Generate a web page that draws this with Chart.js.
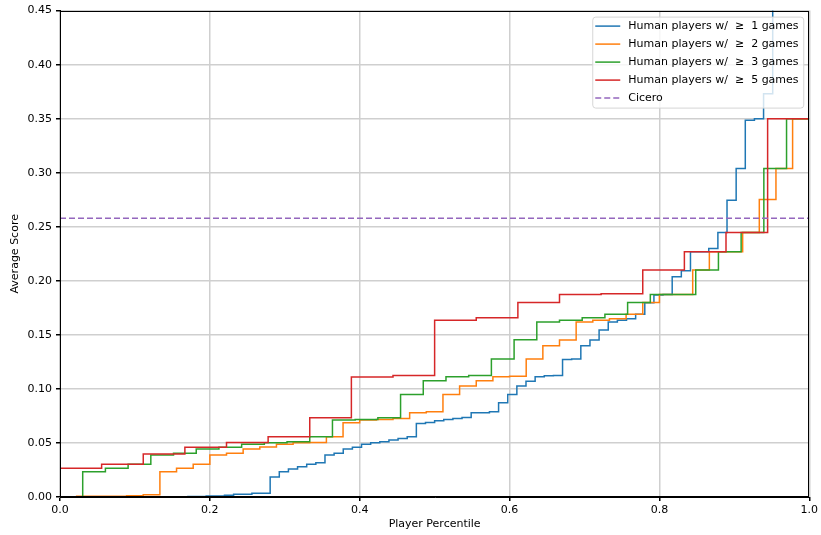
<!DOCTYPE html>
<html>
<head>
<meta charset="utf-8">
<title>Average Score by Player Percentile</title>
<script src="https://cdn.jsdelivr.net/npm/chart.js@4.4.1/dist/chart.umd.min.js"></script>
<style>
    body { margin: 0; background: #fff; }
    #wrap { width: 821px; height: 535px; }
</style>
</head>
<body>
<div id="wrap"><canvas id="scoreChart" width="821" height="535"></canvas></div>
<script>
// Average score of each player, sorted, one value per player
const players1 = [
    0, 0, 0, 0, 0, 0, 0, 0, 0, 0, 0, 0, 0, 0,
    0.0005, 0.0005, 0.001, 0.001, 0.0017, 0.0025, 0.0025, 0.0035, 0.0035,
    0.0185, 0.0234, 0.0259, 0.028, 0.0302, 0.0317, 0.0388, 0.0404, 0.0444, 0.046,
    0.0487, 0.0502, 0.0511, 0.0527, 0.0542, 0.0558, 0.0681, 0.069, 0.0706, 0.0718,
    0.0727, 0.0736, 0.078, 0.078, 0.0789, 0.0872, 0.0949, 0.1026, 0.1072, 0.1113,
    0.1122, 0.1125, 0.1273, 0.1276, 0.140, 0.1452, 0.1544, 0.162, 0.1636, 0.165,
    0.169, 0.1796, 0.1868, 0.1874, 0.2037, 0.2093, 0.2268, 0.2268, 0.230, 0.2447,
    0.2746, 0.304, 0.3486, 0.350, 0.373, 0.48, 0.52, 0.60, 0.75
];
const players2 = [
    0, 0.0008, 0.0008, 0.0008, 0.0012, 0.0021, 0.0234, 0.0265, 0.0302, 0.0388,
    0.0404, 0.0444, 0.0462, 0.0487, 0.0502, 0.0505, 0.0558, 0.0687, 0.0712, 0.0718,
    0.0727, 0.078, 0.0789, 0.0949, 0.1026, 0.1076, 0.1113, 0.1118, 0.1276, 0.140,
    0.1452, 0.162, 0.1636, 0.165, 0.169, 0.180, 0.1874, 0.1874, 0.2099, 0.2268,
    0.2268, 0.2447, 0.2752, 0.304, 0.350
];
const players3 = [
    0, 0.0234, 0.0265, 0.0302, 0.0388, 0.0404, 0.0444, 0.046, 0.0487, 0.0502,
    0.051, 0.0558, 0.0712, 0.0718, 0.0733, 0.0949, 0.1076, 0.1113, 0.1125, 0.1276,
    0.1455, 0.162, 0.1636, 0.1658, 0.169, 0.180, 0.1874, 0.1874, 0.210, 0.2268,
    0.2447, 0.304, 0.350
];
const players5 = [
    0.0265, 0.0302, 0.0397, 0.046, 0.0505, 0.0558, 0.0733, 0.111, 0.1123,
    0.1636, 0.1658, 0.180, 0.1874, 0.188, 0.210, 0.2268, 0.2447, 0.350
];
const ciceroScore = 0.258;

const seriesLabels = [
    'Human players w/  \u2265  1 games',
    'Human players w/  \u2265  2 games',
    'Human players w/  \u2265  3 games',
    'Human players w/  \u2265  5 games',
    'Cicero'
];
const seriesColors = ['#1f77b4', '#ff7f0e', '#2ca02c', '#d62728', '#9467bd'];

const xTicks = [0, 0.2, 0.4, 0.6, 0.8, 1.0];
const yTicks = [0, 0.05, 0.10, 0.15, 0.20, 0.25, 0.30, 0.35, 0.40, 0.45];

const FONT = 'DejaVu Sans';

// percentile of player k out of n, plus a closing point at 1.0
function toSteps(values) {
    const n = values.length;
    const pts = values.map((v, k) => ({ x: k / n, y: v }));
    pts.push({ x: 1, y: values[n - 1] });
    return pts;
}

function stepSet(i, values) {
    return {
        label: seriesLabels[i],
        data: toSteps(values),
        borderColor: seriesColors[i],
        borderWidth: 1.5,
        stepped: 'before', // hold each value until the next player
        pointRadius: 0,
        fill: false,
        order: 5 - i
    };
}

// box round the plot + legend in the upper right corner
const frameAndLegend = {
    id: 'frameAndLegend',
    afterDatasetsDraw(chart) {
        const { ctx, chartArea: a } = chart;
        ctx.save();
        ctx.strokeStyle = '#000';
        ctx.lineWidth = 1;
        ctx.strokeRect(Math.round(a.left) + 0.5, Math.round(a.top) + 0.5,
            Math.round(a.right - a.left) - 1, Math.round(a.bottom - a.top) - 1);

        const boxW = 211, boxH = 91;
        const bx = a.right - 6 - boxW, by = a.top + 6;
        ctx.fillStyle = 'rgba(255,255,255,0.8)';
        ctx.strokeStyle = '#d6d6d6';
        ctx.beginPath();
        ctx.roundRect(bx + 0.5, by + 0.5, boxW, boxH, 3);
        ctx.fill();
        ctx.stroke();

        ctx.font = `11px "${FONT}"`;
        ctx.textBaseline = 'middle';
        ctx.fillStyle = '#000';
        chart.data.datasets.forEach((ds, i) => {
            const y = by + 9.5 + i * 18;
            ctx.beginPath();
            ctx.strokeStyle = ds.borderColor;
            ctx.lineWidth = 1.5;
            ctx.setLineDash(ds.borderDash || []);
            ctx.moveTo(bx + 3, y);
            ctx.lineTo(bx + 28, y);
            ctx.stroke();
            ctx.setLineDash([]);
            ctx.fillText(ds.label, bx + 36, y);
        });
        ctx.restore();
    }
};

const datasets = [
    stepSet(0, players1),
    stepSet(1, players2),
    stepSet(2, players3),
    stepSet(3, players5),
    {
        label: seriesLabels[4],
        data: [{ x: 0, y: ciceroScore }, { x: 1, y: ciceroScore }],
        borderColor: seriesColors[4],
        borderWidth: 1.5,
        borderDash: [6, 3],
        pointRadius: 0,
        fill: false,
        order: 0
    }
];

const tickFont = { family: FONT, size: 11 };

new Chart(document.getElementById('scoreChart').getContext('2d'), {
    type: 'line',
    data: { datasets },
    options: {
        responsive: false,
        animation: false,
        layout: { padding: { top: 10, right: 11, left: 0, bottom: 0 } },
        plugins: {
            legend: { display: false },
            tooltip: { enabled: false }
        },
        scales: {
            x: {
                type: 'linear',
                min: 0,
                max: 1,
                afterBuildTicks: scale => { scale.ticks = xTicks.map(v => ({ value: v })); },
                afterFit: scale => { scale.height = 38; },
                ticks: {
                    color: '#000',
                    font: tickFont,
                    padding: 3,
                    maxRotation: 0,
                    callback: v => v.toFixed(1)
                },
                grid: { color: '#cfcfcf', lineWidth: 1.5, tickLength: 4, tickColor: '#000' },
                border: { color: '#000' },
                title: {
                    display: true,
                    text: 'Player Percentile',
                    color: '#000',
                    font: tickFont,
                    padding: { top: 0, bottom: 4 }
                }
            },
            y: {
                min: 0,
                max: 0.45,
                afterBuildTicks: scale => { scale.ticks = yTicks.map(v => ({ value: v })); },
                afterFit: scale => { scale.width = 60; },
                ticks: {
                    color: '#000',
                    font: tickFont,
                    padding: 4,
                    callback: v => v.toFixed(2)
                },
                grid: { color: '#cfcfcf', lineWidth: 1.5, tickLength: 4, tickColor: '#000' },
                border: { color: '#000' },
                title: {
                    display: true,
                    text: 'Average Score',
                    color: '#000',
                    font: tickFont,
                    padding: { top: 9, bottom: 0 }
                }
            }
        }
    },
    plugins: [frameAndLegend]
});
</script>
</body>
</html>
